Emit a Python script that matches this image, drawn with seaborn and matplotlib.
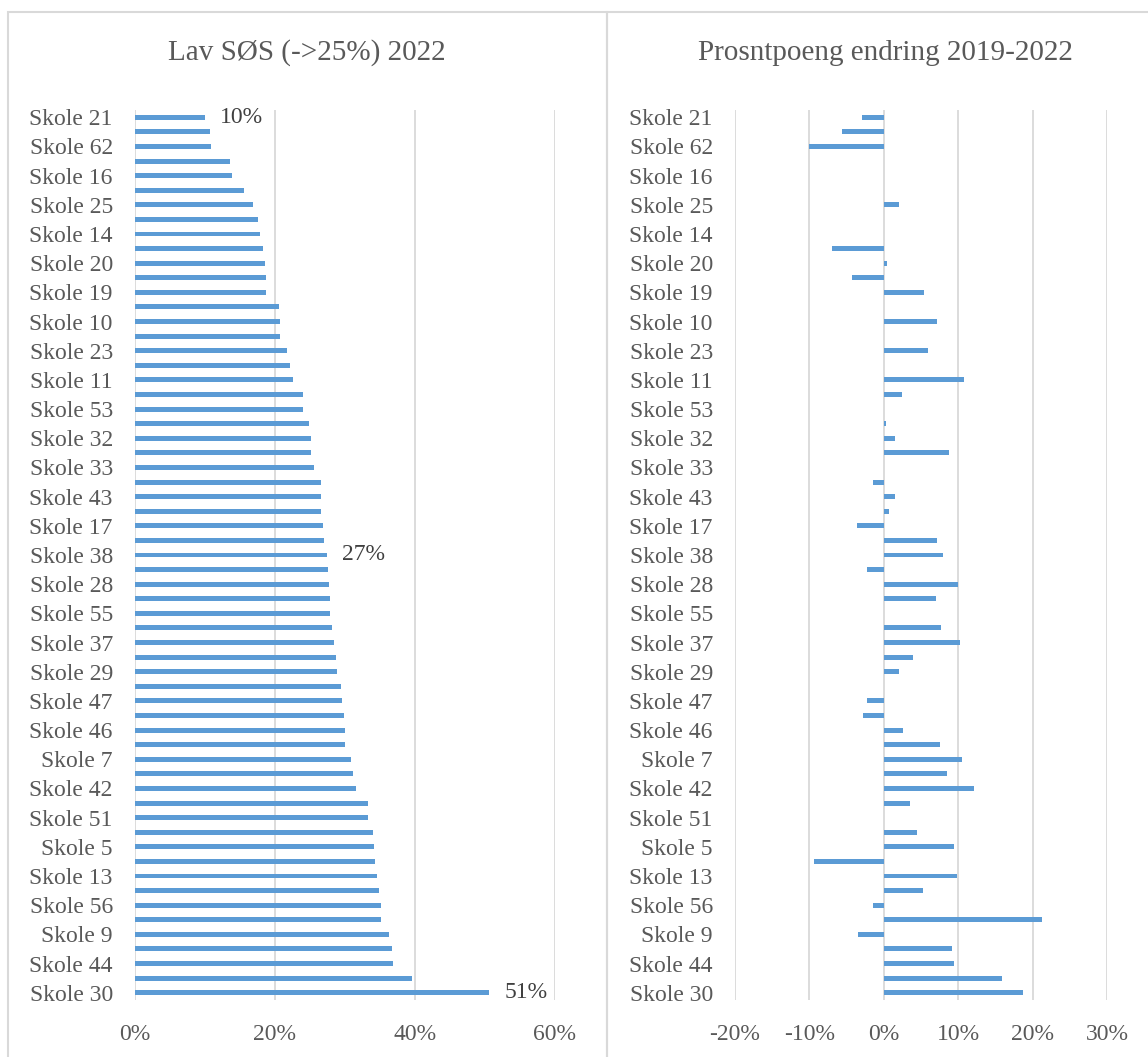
import matplotlib
matplotlib.use("Agg")
import matplotlib.pyplot as plt
import seaborn as sns
import pandas as pd
from matplotlib.patches import Rectangle
from matplotlib.ticker import PercentFormatter

# Schools, sorted by share of pupils with low SES in 2022 (top to bottom)
schools = [
    "Skole 21", "Skole 1", "Skole 62", "Skole 2", "Skole 16", "Skole 3",
    "Skole 25", "Skole 4", "Skole 14", "Skole 6", "Skole 20", "Skole 8",
    "Skole 19", "Skole 12", "Skole 10", "Skole 15", "Skole 23", "Skole 18",
    "Skole 11", "Skole 22", "Skole 53", "Skole 24", "Skole 32", "Skole 26",
    "Skole 33", "Skole 27", "Skole 43", "Skole 31", "Skole 17", "Skole 34",
    "Skole 38", "Skole 35", "Skole 28", "Skole 36", "Skole 55", "Skole 39",
    "Skole 37", "Skole 40", "Skole 29", "Skole 41", "Skole 47", "Skole 45",
    "Skole 46", "Skole 48", "Skole 7", "Skole 49", "Skole 42", "Skole 50",
    "Skole 51", "Skole 52", "Skole 5", "Skole 54", "Skole 13", "Skole 57",
    "Skole 56", "Skole 58", "Skole 9", "Skole 59", "Skole 44", "Skole 60",
    "Skole 30",
]

# Share of pupils with low SES (->25%) in 2022
low_ses_2022 = [
    0.100, 0.107, 0.108, 0.136, 0.138, 0.155, 0.169, 0.176, 0.178, 0.183,
    0.185, 0.187, 0.187, 0.206, 0.207, 0.207, 0.217, 0.222, 0.225, 0.240,
    0.240, 0.249, 0.252, 0.252, 0.256, 0.266, 0.266, 0.266, 0.268, 0.270,
    0.274, 0.275, 0.277, 0.279, 0.279, 0.282, 0.284, 0.287, 0.289, 0.294,
    0.295, 0.298, 0.300, 0.300, 0.308, 0.311, 0.315, 0.333, 0.333, 0.340,
    0.342, 0.343, 0.345, 0.349, 0.351, 0.352, 0.363, 0.367, 0.368, 0.396,
    0.506,
]

# Percentage-point change 2019-2022
change_2019_2022 = [
    -0.029, -0.056, -0.101, 0.0, 0.0, 0.0, 0.021, 0.0, 0.0, -0.070,
    0.004, -0.043, 0.054, 0.0, 0.072, 0.0, 0.060, 0.0, 0.108, 0.025,
    0.0, 0.003, 0.015, 0.087, 0.0, -0.014, 0.015, 0.007, -0.036, 0.072,
    0.080, -0.022, 0.100, 0.070, 0.0, 0.077, 0.102, 0.039, 0.021, 0.0,
    -0.022, -0.028, 0.026, 0.076, 0.105, 0.085, 0.121, 0.035, 0.0, 0.045,
    0.094, -0.094, 0.099, 0.053, -0.014, 0.212, -0.035, 0.091, 0.094, 0.159,
    0.187,
]

# Bars carrying a value label in the left panel
labelled = ["Skole 21", "Skole 38", "Skole 30"]

df = pd.DataFrame({"skole": schools, "andel": low_ses_2022,
                   "endring": change_2019_2022})

sns.set_theme(style="white")
plt.rcParams["font.family"] = ["Liberation Serif", "DejaVu Serif"]
plt.rcParams["axes.unicode_minus"] = False

BAR = "#5b9bd5"
GRID = "#d9d9d9"
TXT = "#595959"

W, H = 1148, 1057
fig = plt.figure(figsize=(W / 100, H / 100), dpi=100)
fig.patch.set_facecolor("white")

bottom = 1 - 1000 / H
height = (1000 - 110) / H
ax1 = fig.add_axes([135 / W, bottom, (555 - 135) / W, height])
ax2 = fig.add_axes([735 / W, bottom, (1107 - 735) / W, height])

sns.barplot(data=df, y="skole", x="andel", order=schools, color=BAR,
            saturation=1, width=0.34, linewidth=0, ax=ax1)
sns.barplot(data=df, y="skole", x="endring", order=schools, color=BAR,
            saturation=1, width=0.34, linewidth=0, ax=ax2)

ax1.set_xlim(0, 0.6)
ax1.set_xticks([0, 0.2, 0.4, 0.6])
ax2.set_xlim(-0.2, 0.3)
ax2.set_xticks([-0.2, -0.1, 0, 0.1, 0.2, 0.3])

for ax in (ax1, ax2):
    ax.xaxis.set_major_formatter(PercentFormatter(1, decimals=0))
    ax.set_yticks(range(0, len(schools), 2))
    ax.set_yticklabels(schools[::2])
    ax.set_ylim(len(schools) - 0.5, -0.5)
    ax.set_xlabel("")
    ax.set_ylabel("")
    ax.xaxis.grid(True, color=GRID, linewidth=1.3)
    ax.yaxis.grid(False)
    ax.set_axisbelow(True)
    for s in ax.spines.values():
        s.set_visible(False)
    ax.tick_params(axis="y", length=0, pad=16, labelsize=17, labelcolor=TXT)
    ax.tick_params(axis="x", length=0, pad=17, labelsize=17, labelcolor=TXT)
    ax.set_facecolor("none")

for name in labelled:
    i = schools.index(name)
    v = low_ses_2022[i]
    ax1.annotate(f"{round(v * 100):.0f}%", xy=(v, i), xytext=(11, 0),
                 textcoords="offset points", va="center", ha="left",
                 fontsize=17, color="#404040")

# Chart titles
fig.text(307 / W, 1 - 53 / H, "Lav SØS (->25%) 2022", ha="center",
         va="center", fontsize=21, color=TXT)
fig.text(885 / W, 1 - 53 / H, "Prosntpoeng endring 2019-2022", ha="center",
         va="center", fontsize=21, color=TXT)

# Chart area frames
for x0, x1 in [(8, 607), (607, 1165)]:
    fig.add_artist(Rectangle((x0 / W, -0.05), (x1 - x0) / W,
                             (H - 12) / H + 0.05, transform=fig.transFigure,
                             fill=False, edgecolor=GRID, linewidth=1.5))

fig.savefig("out.png", dpi=100)
